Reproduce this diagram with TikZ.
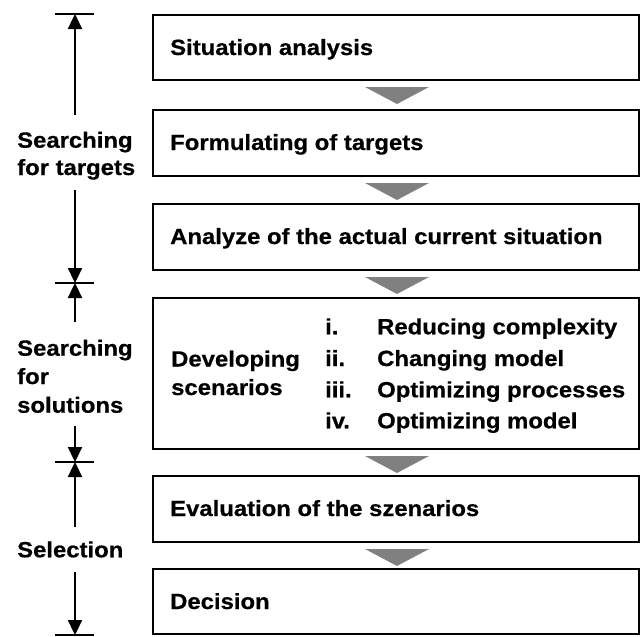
\documentclass[tikz,border=0pt]{standalone}
\usepackage{fontspec}
\setmainfont{Liberation Sans}[FakeStretch=1.085,BoldFeatures={FakeBold=0.6}]
\usetikzlibrary{arrows.meta}
\definecolor{tri}{RGB}{128,128,128}
\begin{document}
\begin{tikzpicture}[x=1pt,y=-1pt,
  stepbox/.style={draw=black,line width=2pt,minimum width=486pt,inner sep=0pt,anchor=north west},
  lbl/.style={anchor=base west,inner sep=0pt,font=\fontsize{22}{24}\selectfont\bfseries},
  dimarrow/.style={line width=2.3pt,-{Triangle[width=14pt,length=15pt]}},
  barline/.style={line width=2pt},
  flowtri/.style={fill=tri}]
\useasboundingbox (0,0) rectangle (641,637);
% boxes
\node[stepbox,minimum height=65pt] (b1) at (152,14) {};
\node[stepbox,minimum height=66pt] (b2) at (152,109) {};
\node[stepbox,minimum height=66pt] (b3) at (152,203) {};
\node[stepbox,minimum height=151pt] (b4) at (152,297) {};
\node[stepbox,minimum height=66pt] (b5) at (152,475) {};
\node[stepbox,minimum height=65pt] (b6) at (152,568) {};
% triangles between boxes
\foreach \a/\b in {b1/b2,b2/b3,b3/b4,b4/b5,b5/b6}{
  \fill[flowtri] ([xshift=-31pt,yshift=-6pt]\a.south) -- ([xshift=33pt,yshift=-6pt]\a.south)
     -- ([xshift=1pt,yshift=-23pt]\a.south) -- cycle;
}
% box texts
\node[lbl] (t1) at (170,55) {Situation analysis};
\node[lbl] (t2) at (170,150) {Formulating of targets};
\node[lbl] (t3) at (170,244) {Analyze of the actual current situation};
\node[lbl] (t4a) at (171,366.5) {Developing};
\node[lbl] (t4b) at (171,395) {scenarios};
\node[lbl] (n1) at (325,334.3) {i.};
\node[lbl] (n2) at (325,366) {ii.};
\node[lbl] (n3) at (325,397.3) {iii.};
\node[lbl] (n4) at (325,428.3) {iv.};
\node[lbl] (i1) at (377,334.3) {Reducing complexity};
\node[lbl] (i2) at (377,366) {Changing model};
\node[lbl] (i3) at (377,397.3) {Optimizing processes};
\node[lbl] (i4) at (377,428.3) {Optimizing model};
\node[lbl] (t5) at (170,516) {Evaluation of the szenarios};
\node[lbl] (t6) at (170,609) {Decision};
% side labels
\node[lbl] (s1a) at (17,147.7) {Searching};
\node[lbl] (s1b) at (17,175) {for targets};
\node[lbl] (s2a) at (17,355.7) {Searching};
\node[lbl] (s2b) at (17,384) {for};
\node[lbl] (s2c) at (17,412.7) {solutions};
\node[lbl] (s3) at (17,557.3) {Selection};
% bars
\foreach \i/\y in {1/14,2/283,3/462,4/635}{
  \coordinate (bl\i) at (55,\y);
  \coordinate (br\i) at (94,\y);
  \coordinate (bc\i) at (75,\y);
  \draw[barline] (bl\i) -- (br\i);
}
% arrow start points
\coordinate (a1) at (75,115);
\coordinate (a2) at (75,190);
\coordinate (a3) at (75,322);
\coordinate (a4) at (75,426);
\coordinate (a5) at (75,527);
\coordinate (a6) at (75,572);
\draw[dimarrow] (a1) -- (bc1);
\draw[dimarrow] (a2) -- (bc2);
\draw[dimarrow] (a3) -- (bc2);
\draw[dimarrow] (a4) -- (bc3);
\draw[dimarrow] (a5) -- (bc3);
\draw[dimarrow] (a6) -- (bc4);
\end{tikzpicture}
\end{document}
